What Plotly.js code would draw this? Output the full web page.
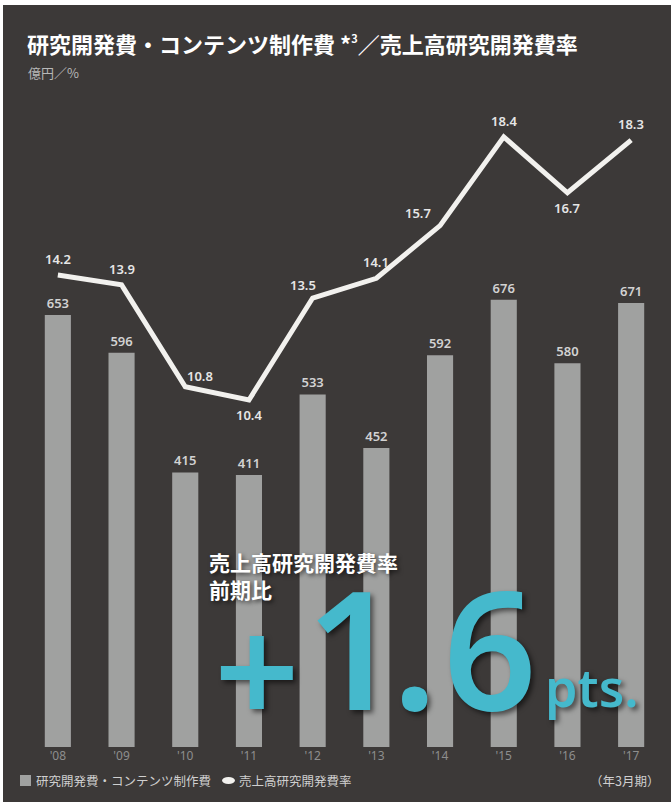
<!DOCTYPE html>
<html>
<head>
<meta charset="utf-8">
<script src="https://cdn.plot.ly/plotly-3.0.1.min.js"></script>
<style>
  html, body { margin: 0; padding: 0; background: #ffffff; width: 671px; height: 802px; overflow: hidden; }
  #chart { position: absolute; left: 3px; top: 5px; width: 668px; height: 797px; }
</style>
</head>
<body>
<div id="chart"></div>
<script>
// ---- data ----
const years = ["'08", "'09", "'10", "'11", "'12", "'13", "'14", "'15", "'16", "'17"];
const rdCosts = [653, 596, 415, 411, 533, 452, 592, 676, 580, 671];       // 億円
const rdRatio = [14.2, 13.9, 10.8, 10.4, 13.5, 14.1, 15.7, 18.4, 16.7, 18.3]; // %
const ratioLabelSide = ['above', 'above', 'aboveRight', 'below', 'aboveLeftSmall',
                        'above', 'aboveLeft', 'above', 'below', 'above'];
const barName = '研究開発費・コンテンツ制作費';
const lineName = '売上高研究開発費率';

// ---- layout helpers (page pixel -> paper coords) ----
const W = 668, H = 797, ML = 23, MR = 8, MT = 95, MB = H - 742;
const PW = W - ML - MR, PH = H - MT - MB;
const px = x => ((x - 3) - ML) / PW;
const py = y => (H - MB - (y - 5)) / PH;

const CJK = '"Noto Sans CJK JP", "Noto Sans", sans-serif';
const NUM = '"Noto Sans", "DejaVu Sans", sans-serif';
const CYAN = '#45b9cc';
const BAR = '#a0a1a0';
const LINE = '#f2f1ee';
const bigShadow = '3px 3px 5px rgba(0,0,0,0.55)';
const smallShadow = '2px 2px 4px rgba(0,0,0,0.6)';

const traces = [
  {
    type: 'bar', x: years, y: rdCosts, name: barName,
    marker: { color: BAR },
    text: rdCosts.map(String), textposition: 'outside',
    textfont: { family: NUM, size: 13, color: '#d2d2d2', weight: 600 },
    cliponaxis: false, hoverinfo: 'x+y'
  },
  {
    type: 'scatter', mode: 'lines', x: years, y: rdRatio, yaxis: 'y2', name: lineName,
    line: { color: LINE, width: 5 },
    cliponaxis: false
  }
];

const ann = (text, x, y, font, opts) => Object.assign({
  text: text, xref: 'paper', yref: 'paper', x: px(x), y: py(y),
  showarrow: false, xanchor: 'left', yanchor: 'middle', font: font
}, opts || {});

// value labels for the ratio line, anchored to the data
const sideShift = {
  above: { xshift: 0, yshift: 16 },
  below: { xshift: 0, yshift: -15 },
  aboveRight: { xshift: 15, yshift: 11 },
  aboveLeft: { xshift: -22, yshift: 13 },
  aboveLeftSmall: { xshift: -10, yshift: 13 }
};
const ratioLabels = rdRatio.map((v, i) => Object.assign({
  text: v.toFixed(1), xref: 'x', yref: 'y2', x: years[i], y: v,
  showarrow: false, xanchor: 'center', yanchor: 'middle',
  font: { family: NUM, size: 13, color: '#e6e6e6', weight: 600 }
}, sideShift[ratioLabelSide[i]]));

// big "+1.6pts." callout
const big = (t, cx, cy, size, anchor) => ({
  text: t, xref: 'paper', yref: 'paper', x: px(cx), y: py(cy),
  showarrow: false, xanchor: anchor || 'center', yanchor: 'middle',
  font: { family: NUM, size: size, color: CYAN, weight: 600, shadow: bigShadow }
});

const layout = {
  width: W, height: H,
  paper_bgcolor: '#3c3938', plot_bgcolor: 'rgba(0,0,0,0)',
  margin: { l: ML, r: MR, t: MT, b: MB, pad: 0 },
  title: {
    text: '研究開発費・コンテンツ制作費 *<sup><span style="font-size:11px">3</span></sup>／売上高研究開発費率',
    font: { family: CJK, size: 22, color: '#ffffff', weight: 700 },
    x: 24 / W, xref: 'container', xanchor: 'left',
    y: 1 - 40 / H, yref: 'container', yanchor: 'middle'
  },
  bargap: 0.59,
  xaxis: {
    type: 'category', showgrid: false, zeroline: false, showline: false, ticks: '',
    tickfont: { family: NUM, size: 12, color: '#8e8e8e' }, fixedrange: true
  },
  yaxis: { range: [0, 978], visible: false, fixedrange: true },
  yaxis2: { range: [-0.15, 19.52], overlaying: 'y', visible: false, fixedrange: true },
  showlegend: false,
  shapes: [
    // legend keys
    { type: 'rect', xref: 'paper', yref: 'paper', x0: px(20), x1: px(31), y0: py(786), y1: py(775),
      fillcolor: BAR, line: { width: 0 } },
    { type: 'circle', xref: 'paper', yref: 'paper', x0: px(222), x1: px(235), y0: py(784), y1: py(777),
      fillcolor: LINE, line: { width: 0 } }
  ],
  annotations: [
    ann('億円／%', 26, 72, { family: CJK, size: 13, color: '#b8b8b8' }),
    ann(barName, 34, 780.5, { family: CJK, size: 12.5, color: '#cfcfcf' }),
    ann(lineName, 237, 780.5, { family: CJK, size: 12.5, color: '#cfcfcf' }),
    ann('（年3月期）', 661, 780.5, { family: CJK, size: 12.5, color: '#cfcfcf' }, { xanchor: 'right' }),
    ann('売上高研究開発費率', 207, 562,
        { family: CJK, size: 21, color: '#ffffff', weight: 700, shadow: smallShadow }),
    ann('前期比', 207, 589,
        { family: CJK, size: 21, color: '#ffffff', weight: 700, shadow: smallShadow }),
    big('+', 257, 668, 150),
    big('1', 353, 646, 164),
    big('.', 414, 646, 164),
    big('6', 490, 646, 164),
    big('pts.', 543, 686, 52, 'left')
  ].concat(ratioLabels)
};

Plotly.newPlot('chart', traces, layout, { displayModeBar: false, staticPlot: true });
</script>
</body>
</html>
